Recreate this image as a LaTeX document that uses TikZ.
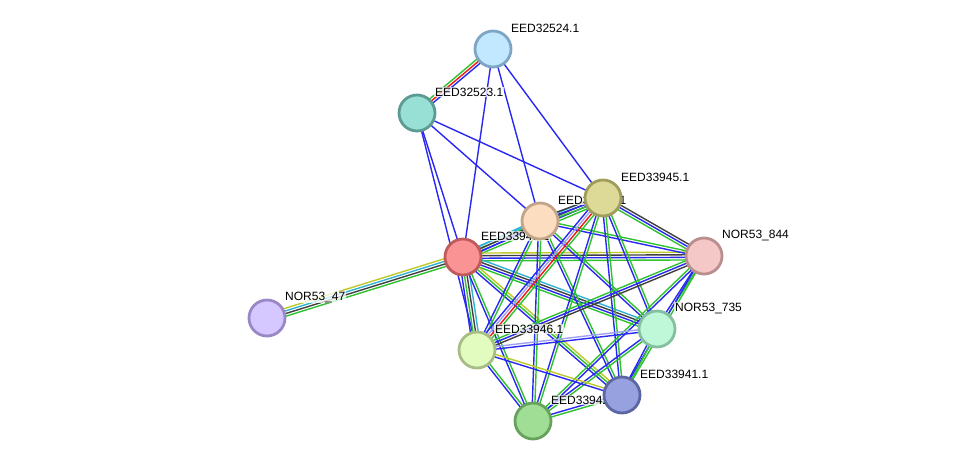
\documentclass[tikz,border=0pt]{standalone}
\usepackage{fontspec}
\setmainfont{Liberation Sans}
\usetikzlibrary{calc}

\definecolor{sgreen}{HTML}{2EC22E}
\definecolor{sblue}{HTML}{2828F2}
\definecolor{sred}{HTML}{F01818}
\definecolor{sgray}{HTML}{404040}
\definecolor{syellow}{HTML}{BEC828}
\definecolor{scyan}{HTML}{30B2D4}
\definecolor{slav}{HTML}{A0A0F4}

\pgfdeclarelayer{links}
\pgfdeclarelayer{names}
\pgfsetlayers{links,names,main}

% one STRING link = a bundle of parallel coloured lines
\newcounter{nl}
\newcommand\strlink[3]{%
  \setcounter{nl}{0}%
  \foreach \c in {#3}{\stepcounter{nl}}%
  \foreach \c [count=\k] in {#3}{%
    \pgfmathsetmacro\off{(\k-1-(\thenl-1)/2)*2.6}%
    \draw[link, \c] ($(#1.center)!\off pt!90:(#2.center)$) -- ($(#2.center)!\off pt!-90:(#1.center)$);
  }}

\begin{document}
\begin{tikzpicture}[
    x=1pt, y=-1pt,
    link/.style={line width=1.4pt},
    prot/.style={circle, line width=2.8pt, minimum size=36pt, inner sep=0pt},
    lbl/.style={anchor=west, font=\fontsize{12}{14}\selectfont, inner sep=1pt,
                fill=white, fill opacity=0.75, text opacity=1}
]
    \useasboundingbox (0,0) rectangle (976,467);

    % proteins
    \node[prot, fill={rgb,255:red,194;green,232;blue,255}, draw={rgb,255:red,124;green,166;blue,195}] (p32524) at (493,49) {};
    \node[prot, fill={rgb,255:red,152;green,223;blue,214}, draw={rgb,255:red,92;green,154;blue,146}] (p32523) at (417,113) {};
    \node[prot, fill={rgb,255:red,253;green,221;blue,192}, draw={rgb,255:red,194;green,165;blue,136}] (p33944) at (540,221) {};
    \node[prot, fill={rgb,255:red,221;green,218;blue,152}, draw={rgb,255:red,160;green,156;blue,92}] (p33945) at (603,198) {};
    \node[prot, fill={rgb,255:red,250;green,148;blue,148}, draw={rgb,255:red,191;green,90;blue,90}] (p33943) at (463,257) {};
    \node[prot, fill={rgb,255:red,245;green,200;blue,200}, draw={rgb,255:red,187;green,142;blue,142}] (p844) at (704,256) {};
    \node[prot, fill={rgb,255:red,213;green,199;blue,255}, draw={rgb,255:red,154;green,135;blue,197}] (p47) at (267,318) {};
    \node[prot, fill={rgb,255:red,191;green,248;blue,216}, draw={rgb,255:red,132;green,192;blue,160}] (p735) at (657,329) {};
    \node[prot, fill={rgb,255:red,226;green,252;blue,192}, draw={rgb,255:red,168;green,189;blue,133}] (p33946) at (477,350) {};
    \node[prot, fill={rgb,255:red,160;green,222;blue,150}, draw={rgb,255:red,102;green,162;blue,92}] (p33942) at (533,421) {};
    \node[prot, fill={rgb,255:red,151;green,161;blue,223}, draw={rgb,255:red,92;green,102;blue,162}] (p33941) at (622,395) {};

    % labels (behind the circles)
    \begin{pgfonlayer}{names}
    \node[lbl] (l32524) at ([shift={(17,-21)}]p32524.center) {EED32524.1};
    \node[lbl] (l32523) at ([shift={(17,-21)}]p32523.center) {EED32523.1};
    \node[lbl] (l33944) at ([shift={(17,-21)}]p33944.center) {EED33944.1};
    \node[lbl] (l33945) at ([shift={(17,-21)}]p33945.center) {EED33945.1};
    \node[lbl] (l33943) at ([shift={(17,-21)}]p33943.center) {EED33943.1};
    \node[lbl] (l844) at ([shift={(17,-21)}]p844.center) {NOR53\_844};
    \node[lbl] (l47) at ([shift={(17,-21)}]p47.center) {NOR53\_47};
    \node[lbl] (l735) at ([shift={(17,-21)}]p735.center) {NOR53\_735};
    \node[lbl] (l33946) at ([shift={(17,-21)}]p33946.center) {EED33946.1};
    \node[lbl] (l33942) at ([shift={(17,-21)}]p33942.center) {EED33942.1};
    \node[lbl] (l33941) at ([shift={(17,-21)}]p33941.center) {EED33941.1};
    \end{pgfonlayer}

    % links
    \begin{pgfonlayer}{links}
    \strlink{p32524}{p32523}{sgreen,sred,sblue}
    \strlink{p32524}{p33943}{sblue}
    \strlink{p32524}{p33944}{sblue}
    \strlink{p32524}{p33945}{sblue}
    \strlink{p32523}{p33943}{sblue}
    \strlink{p32523}{p33946}{sblue}
    \strlink{p32523}{p33944}{sblue}
    \strlink{p32523}{p33945}{sblue}
    \strlink{p33943}{p47}{syellow,scyan,sgray,sgreen}
    \strlink{p33943}{p33944}{sblue,sgreen,scyan}
    \strlink{p33943}{p33945}{sgreen,sblue,sgray,scyan}
    \strlink{p33943}{p844}{sgreen,sblue,sgray,syellow}
    \strlink{p33943}{p735}{sgreen,sblue,sgray,scyan}
    \strlink{p33943}{p33946}{sblue,sgreen,sgray,scyan}
    \strlink{p33943}{p33941}{sblue,sgreen,syellow}
    \strlink{p33943}{p33942}{sblue,sgreen}
    \strlink{p33944}{p33945}{sgreen,sblue,sgray}
    \strlink{p33944}{p844}{sblue,sgreen}
    \strlink{p33944}{p735}{sblue,sgreen}
    \strlink{p33944}{p33946}{sblue,sgreen}
    \strlink{p33944}{p33941}{sblue,sgreen}
    \strlink{p33944}{p33942}{sblue,sgreen}
    \strlink{p33945}{p844}{sgreen,sblue,sgray}
    \strlink{p33945}{p735}{sblue,sgreen}
    \strlink{p33945}{p33946}{sblue,slav,sred,sgreen}
    \strlink{p33945}{p33941}{sblue,sgreen}
    \strlink{p33945}{p33942}{sblue,sgreen}
    \strlink{p844}{p735}{sblue,sgreen}
    \strlink{p844}{p33946}{sgreen,sblue,sgray}
    \strlink{p844}{p33941}{sblue,sgreen}
    \strlink{p844}{p33942}{sgreen,sblue}
    \strlink{p735}{p33946}{slav,sblue}
    \strlink{p735}{p33941}{sblue,sgreen}
    \strlink{p735}{p33942}{sblue,sgreen}
    \strlink{p33946}{p33941}{sblue,syellow}
    \strlink{p33946}{p33942}{sblue,sgreen}
    \strlink{p33941}{p33942}{sblue,sgreen}
    \end{pgfonlayer}
\end{tikzpicture}
\end{document}
